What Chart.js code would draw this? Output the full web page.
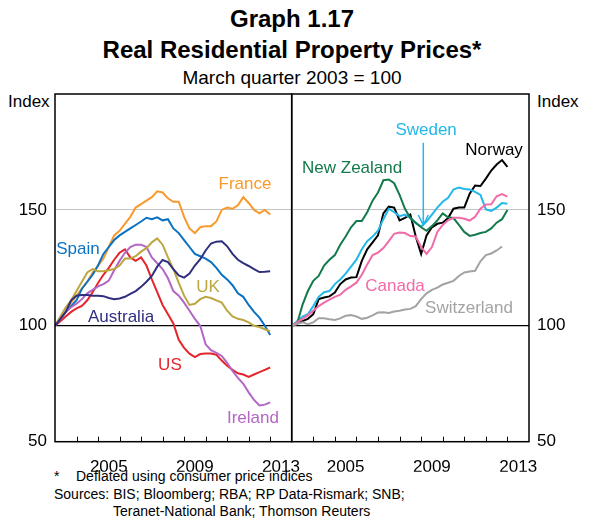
<!DOCTYPE html>
<html>
<head>
<meta charset="utf-8">
<script src="https://cdn.jsdelivr.net/npm/chart.js@4.4.0/dist/chart.umd.min.js"></script>
<style>
body { margin: 0; background: #fff; font-family: Arial, "Liberation Sans", sans-serif; }
#wrap { position: relative; width: 590px; height: 519px; overflow: hidden; }
canvas { position: absolute; left: 0; top: 0; }
.t { position: absolute; white-space: nowrap; color: #000; }
</style>
</head>
<body>
<div id="wrap">
  <div class="t" style="left:0;width:584px;text-align:center;top:7px;font-size:24px;line-height:24px;font-weight:bold;">Graph 1.17</div>
  <div class="t" style="left:0;width:584px;text-align:center;top:38px;font-size:24px;line-height:24px;font-weight:bold;">Real Residential Property Prices*</div>
  <div class="t" style="left:0;width:584px;text-align:center;top:68px;font-size:19px;line-height:19px;">March quarter 2003 = 100</div>
  <div class="t" style="left:8px;top:93px;font-size:17px;line-height:17px;">Index</div>
  <div class="t" style="left:537px;top:93px;font-size:17px;line-height:17px;">Index</div>
  <div class="t" style="left:54px;top:469px;font-size:14px;line-height:14px;">*</div>
  <div class="t" style="left:76px;top:469px;font-size:14px;line-height:14px;">Deflated using consumer price indices</div>
  <div class="t" style="left:54px;top:487px;font-size:14px;line-height:14px;">Sources: BIS; Bloomberg; RBA; RP Data-Rismark; SNB;</div>
  <div class="t" style="left:113px;top:504px;font-size:14px;line-height:14px;">Teranet-National Bank; Thomson Reuters</div>
  <canvas id="left" width="590" height="519"></canvas>
  <canvas id="right" width="590" height="519"></canvas>
</div>
<script>
// quarterly observations, March 2003 to March 2013
const quarters = [];
for (let i = 0; i <= 40; i++) quarters.push(2003 + i / 4);

const years = [2003, 2004, 2005, 2006, 2007, 2008, 2009, 2010, 2011, 2012, 2013, 2014];
const yearLabels = [2005, 2009, 2013];
const yTicks = [50, 100, 150];

// left panel
const france = [100,103,106,110,113,116,119,123,126,129,134,139,141,144,147,151,152.5,154,155.5,158,157.5,155,153.5,153.5,147,142,140,142.5,143,143,145,150,151,150.5,152,155.5,153,150,148.5,150,148];
const spain = [100,103,106,108.5,111,116,119,122,126,131,134,137,139,140.5,142,143.5,145,146.6,146,146.8,145.5,146,142,140,137,134,131,130,129,127.5,125,122,120,117.5,114,112.5,109,106,103.5,100,96];
const uk = [100,104,108,111,115,119,123,124.5,123.5,123.5,124,124.5,126,129,129,130,132,133.5,136,137.7,135,129.5,124.5,118.5,113,109,109.5,111.5,112.5,112,111,110,106.5,104,103,102.5,101.5,100,99.5,98.5,97.6];
const us = [100,102,104,106,107.5,108.6,111,114.5,118.5,122,125,128.5,131.5,133,129.5,128,129.5,126,120,114.5,109,105,101,94,90.5,88,86.5,87.8,88,88,87.5,85,82.8,81,79.5,79,78,79,80,81,82];
const ireland = [100,103,106,108,109.5,111.5,114,115.5,117,118,119.5,124,128,131.5,134,135,135,134,129.5,127,124.5,120.5,115,113,110,106.5,103,100,92,89.5,88.3,87,84,80.5,77.5,75,71.3,68,65.6,66,67];
const australia = [100,103,106,111,113,113.3,113.3,113,113,112.8,112,111.5,111.8,112.5,113.8,115,116.8,119,121.5,125.5,128.4,127.5,124.4,121.7,120.8,122.5,126,128.7,132.5,135.5,136.3,136.5,134.3,131,128.5,127,125.8,124.5,123.2,123.3,123.5];

// right panel
const newZealand = [100,101,109,115,119.4,121.5,126,128.5,130.5,135,138.5,142.5,145.2,145.2,149,154,157.5,162.8,163.1,161.5,156.5,150.5,146.5,144.5,142.5,141,143,145.5,148.5,146.8,146.5,143.5,140.5,138.8,139.3,140,140.5,142,144.5,146,150];
const sweden = [100,102,104,105,108.5,112.5,114.5,115,118,120,122.5,125.5,128.5,133,136.5,138.5,141,146,150.5,149,147.3,148,146.5,144.3,142.8,145,148,151,153.5,155.2,158.8,159.6,159,158.8,157.8,156.5,150.2,149.6,151,153,152.7];
const norway = [100,101,102,103,105,111.5,112.2,112.7,114.3,118,120,120.8,121,128,133,136,139,148.5,151.4,151,145.5,146.6,148,138.5,131,139,142.5,144,144.5,146.5,150.5,151,151,157,160.5,160.3,163.5,167,169.6,171.5,168.6];
const canada = [100,101.5,103,104.5,106.5,108.5,110,111.3,112.5,113.4,115.5,117,118.6,122,126.5,130.5,131.6,133.5,136.5,139.7,140.2,140,138.7,138.5,134,131,134,140.5,143.5,145.5,146.6,146.6,146.2,145.4,147,150.5,152.3,152.4,155.9,156.8,155.7];
const switzerland = [100,100.8,101.5,100.7,101.5,103.3,103.3,102.8,102.5,103.2,104.3,104.6,104,103,103.5,104.5,105.7,105.8,105.5,106.2,106.5,107,107.3,108.5,111.5,114,115.5,116.5,117.8,118.6,119.4,121.5,123,123.4,123.7,127.8,130.5,131.2,132.5,134.2,null];

const colors = {
    france: "#f89a2b", spain: "#0a72c2", uk: "#bba640", us: "#e4262c",
    ireland: "#b366c5", australia: "#302f7f", newZealand: "#137a4c",
    sweden: "#22b8ea", norway: "#000000", canada: "#f26aa7", switzerland: "#a3a3a3"
};

const leftNotes = [
    { text: "France", x: 2011.83, y: 161, color: colors.france },
    { text: "Spain", x: 2004.07, y: 133, color: colors.spain },
    { text: "UK", x: 2010.11, y: 116.7, color: colors.uk },
    { text: "Australia", x: 2006.07, y: 103.7, color: colors.australia },
    { text: "US", x: 2008.34, y: 83.1, color: colors.us },
    { text: "Ireland", x: 2012.2, y: 59.9, color: colors.ireland }
];
const rightNotes = [
    { text: "Sweden", x: 2009.23, y: 184.2, color: colors.sweden },
    { text: "New Zealand", x: 2005.8, y: 167.9, color: colors.newZealand },
    { text: "Norway", x: 2012.38, y: 175.6, color: colors.norway },
    { text: "Canada", x: 2007.79, y: 117.1, color: colors.canada },
    { text: "Switzerland", x: 2011.22, y: 107.6, color: colors.switzerland }
];
const swedenArrow = { x: 2009.1, from: 179, to: 143.5, color: colors.sweden };

Chart.defaults.font.family = 'Arial, "Liberation Sans", sans-serif';
Chart.defaults.color = "#000";

function series(values, color) {
    return { data: values, borderColor: color, borderWidth: 2, pointRadius: 0, tension: 0, fill: false, spanGaps: false };
}

function panelDecor(notes, arrow) {
    return {
        id: "panelDecor",
        afterDatasetsDraw(chart) {
            const ctx = chart.ctx;
            const a = chart.chartArea;
            const x = chart.scales.x;
            const y = chart.scales.y;
            ctx.save();
            // small inward tick marks at each year
            ctx.strokeStyle = "#000";
            ctx.lineWidth = 1;
            years.forEach(function (v) {
                if (v > x.min && v < x.max) {
                    const px = Math.round(x.getPixelForValue(v)) + 0.5;
                    ctx.beginPath();
                    ctx.moveTo(px, a.bottom);
                    ctx.lineTo(px, a.bottom - 5);
                    ctx.stroke();
                }
            });
            // panel frame
            ctx.lineWidth = 1.5;
            ctx.strokeRect(a.left, a.top, a.right - a.left, a.bottom - a.top);
            // series labels
            ctx.font = '17px Arial, "Liberation Sans", sans-serif';
            ctx.textAlign = "center";
            ctx.textBaseline = "middle";
            notes.forEach(function (n) {
                ctx.fillStyle = n.color;
                ctx.fillText(n.text, x.getPixelForValue(n.x), y.getPixelForValue(n.y));
            });
            if (arrow) {
                const ax = x.getPixelForValue(arrow.x);
                const y1 = y.getPixelForValue(arrow.from);
                const y2 = y.getPixelForValue(arrow.to);
                ctx.strokeStyle = arrow.color;
                ctx.lineWidth = 1.5;
                ctx.beginPath();
                ctx.moveTo(ax, y1);
                ctx.lineTo(ax, y2);
                ctx.moveTo(ax - 5, y2 - 10);
                ctx.lineTo(ax, y2);
                ctx.lineTo(ax + 5, y2 - 10);
                ctx.stroke();
            }
            ctx.restore();
        }
    };
}

function panelOptions(isLeft) {
    return {
        responsive: false,
        animation: false,
        devicePixelRatio: 1,
        layout: { padding: isLeft ? { left: 0, right: 298.3, top: 94, bottom: 47.3 } : { left: 291.7, right: 0, top: 94, bottom: 47.3 } },
        plugins: { legend: { display: false }, tooltip: { enabled: false } },
        scales: {
            x: {
                type: "linear",
                min: 2003,
                max: 2014,
                afterFit: function (s) { s.height = 30; },
                afterBuildTicks: function (s) { s.ticks = years.map(function (v) { return { value: v }; }); },
                grid: { display: false },
                border: { display: false },
                ticks: {
                    autoSkip: false,
                    maxRotation: 0,
                    padding: 7,
                    labelOffset: 10.75,
                    color: "#000",
                    font: { size: 17 },
                    callback: function (v) { return yearLabels.includes(v) ? String(v) : ""; }
                }
            },
            y: {
                position: isLeft ? "left" : "right",
                min: 50,
                max: 200,
                afterFit: function (s) { s.width = isLeft ? 55 : 61; },
                afterBuildTicks: function (s) { s.ticks = yTicks.map(function (v) { return { value: v }; }); },
                border: { display: false },
                grid: {
                    drawTicks: false,
                    color: function (c) {
                        if (c.tick.value === 100) return "#000";
                        if (c.tick.value === 150) return "#c4c4c4";
                        return "rgba(0,0,0,0)";
                    },
                    lineWidth: function (c) { return c.tick.value === 100 ? 1.3 : 1; }
                },
                ticks: { padding: 8, color: "#000", font: { size: 17 } }
            }
        }
    };
}

new Chart(document.getElementById("left").getContext("2d"), {
    type: "line",
    data: {
        labels: quarters,
        datasets: [
            series(australia, colors.australia),
            series(uk, colors.uk),
            series(ireland, colors.ireland),
            series(us, colors.us),
            series(spain, colors.spain),
            series(france, colors.france)
        ]
    },
    options: panelOptions(true),
    plugins: [panelDecor(leftNotes, null)]
});

new Chart(document.getElementById("right").getContext("2d"), {
    type: "line",
    data: {
        labels: quarters,
        datasets: [
            series(switzerland, colors.switzerland),
            series(canada, colors.canada),
            series(newZealand, colors.newZealand),
            series(sweden, colors.sweden),
            series(norway, colors.norway)
        ]
    },
    options: panelOptions(false),
    plugins: [panelDecor(rightNotes, swedenArrow)]
});
</script>
</body>
</html>
